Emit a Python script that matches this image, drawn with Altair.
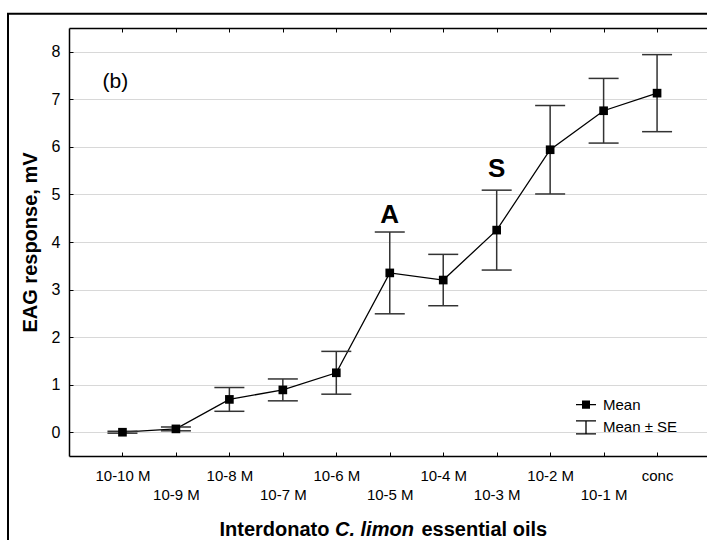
import json
import altair as alt
import pandas as pd

# ---- data ----
categories = ["10-10 M", "10-9 M", "10-8 M", "10-7 M", "10-6 M", "10-5 M",
              "10-4 M", "10-3 M", "10-2 M", "10-1 M", "conc"]
mean_mv = [0.00, 0.07, 0.69, 0.89, 1.25, 3.35, 3.20, 4.25, 5.94, 6.76, 7.13]
se_mv = [0.02, 0.04, 0.25, 0.23, 0.45, 0.86, 0.54, 0.84, 0.93, 0.68, 0.81]
y_ticks = [0, 1, 2, 3, 4, 5, 6, 7, 8]
ann_labels = ["A", "S"]
ann_categories = ["10-5 M", "10-3 M"]
ann_y = [4.41, 5.37]
legend_labels = ["Mean", "Mean \u00b1 SE"]

df = pd.DataFrame({
    "idx": list(range(1, len(categories) + 1)),
    "cat": categories,
    "mean": mean_mv,
    "se": se_mv,
})
df["low"] = df["mean"] - df["se"]
df["high"] = df["mean"] + df["se"]
df["series"] = legend_labels[0]

ann = pd.DataFrame({
    "idx": [categories.index(c) + 1 for c in ann_categories],
    "y": ann_y,
    "label": ann_labels,
})

# ---- layout ----
W, H = 638, 428
FONT = "Liberation Sans"
xs = alt.Scale(domain=[0, 11.934], nice=False, zero=False)
ys = alt.Scale(domain=[-0.5, 8.5], nice=False, zero=False)
xvals = list(range(1, len(categories) + 1))
lab_arr = json.dumps(categories)
label_expr = (f"(datum.value % 2 == 1) ? {lab_arr}[datum.value - 1] "
              f": ['', {lab_arr}[datum.value - 1]]")

title_common = dict(titleFont=FONT, titleFontSize=20, titleFontWeight="bold",
                    titleColor="black", titleAngle=0, titleBaseline="middle")

x_main = alt.Axis(orient="bottom", values=xvals, labelExpr=label_expr, ticks=False,
                  domain=True, domainColor="black", domainWidth=1.5, grid=False,
                  labelFont=FONT, labelFontSize=15, labelColor="black", labelPadding=12,
                  labelLineHeight=19.5, labelBaseline="top", labelAngle=0,
                  labelOverlap=False, labelFlush=False,
                  title="Interdonato", titleX=260, titleY=73, titleAlign="right",
                  **title_common)
x_inner_bottom = alt.Axis(orient="top", offset=-H, values=xvals, labels=False, ticks=True,
                          tickSize=4, tickColor="black", tickWidth=1, domain=False, grid=False,
                          title="C. limon", titleX=265.5, titleY=73, titleAlign="left",
                          titleFontStyle="italic", **title_common)
x_top = alt.Axis(orient="bottom", offset=-H, values=xvals, labels=False, ticks=True,
                 tickSize=4, tickColor="black", tickWidth=1, domain=True,
                 domainColor="black", domainWidth=1.5, grid=False,
                 title="essential oils", titleX=352, titleY=H + 73, titleAlign="left",
                 **title_common)

y_main = alt.Axis(orient="left", values=y_ticks, grid=True, gridColor="#b0b0b0",
                  gridDash=[1, 1], gridWidth=1, ticks=False, domain=True,
                  domainColor="black", domainWidth=1.5, labelFont=FONT, labelFontSize=16,
                  labelColor="black", labelPadding=9,
                  title="EAG response, mV", titleX=-39, titleY=H / 2, titleAngle=270,
                  titleAlign="center", titleBaseline="middle", titleFont=FONT,
                  titleFontSize=20, titleFontWeight="bold", titleColor="black")
y_inner = alt.Axis(orient="right", offset=-W, values=y_ticks, labels=False, ticks=True,
                   tickSize=4, tickColor="black", tickWidth=1, domain=False, grid=False,
                   title="(b)", titleX=33, titleY=53.5, titleAngle=0, titleAlign="left",
                   titleBaseline="middle", titleFont=FONT, titleFontSize=21,
                   titleFontWeight="normal", titleColor="black")

base = alt.Chart(df)

frame = alt.Chart(pd.DataFrame({"k": [0]})).mark_rect(
    fillOpacity=0, stroke="black", strokeWidth=2, clip=False
).encode(x=alt.value(-61), x2=alt.value(W + 40), y=alt.value(-14.3), y2=alt.value(H + 120))

line = base.mark_line(color="black", strokeWidth=1.3).encode(
    x=alt.X("idx:Q", scale=xs, axis=x_main),
    y=alt.Y("mean:Q", scale=ys, axis=y_main),
)

rules = base.mark_rule(color="#333333", strokeWidth=1.5).encode(
    x=alt.X("idx:Q", scale=xs, axis=x_inner_bottom),
    y=alt.Y("low:Q", scale=ys, axis=y_inner),
    y2="high:Q",
)

caps = base.transform_fold(["low", "high"], as_=["end", "val"]).mark_tick(
    orient="horizontal", size=30, thickness=1.5, color="#333333", opacity=1
).encode(
    x=alt.X("idx:Q", scale=xs, axis=x_top),
    y=alt.Y("val:Q", scale=ys, axis=None),
)

points = base.mark_point(shape="square", filled=True, size=75, color="black", opacity=1).encode(
    x=alt.X("idx:Q", scale=xs, axis=None),
    y=alt.Y("mean:Q", scale=ys, axis=None),
)

# legend glyphs (unit-box svg paths): line with a solid square, and an I-beam
sq_rows = "".join(f"M-0.4,{v / 100:.2f}H0.4" for v in range(-35, 40, 10))
mean_path = "M-1,0H1" + sq_rows
se_path = "M-1,-0.65H1M0,-0.65V0.65M-1,0.65H1"
legend_layer = base.mark_point(filled=False, color="black", strokeWidth=1.3,
                               opacity=0).encode(
    x=alt.X("idx:Q", scale=xs, axis=None),
    y=alt.Y("mean:Q", scale=ys, axis=None),
    shape=alt.Shape("series:N",
                    scale=alt.Scale(domain=legend_labels, range=[mean_path, se_path]),
                    legend=alt.Legend(orient="none", legendX=506, legendY=365.7, padding=0,
                                      title=None, labelFont=FONT, labelFontSize=15,
                                      labelColor="black", symbolSize=400,
                                      symbolStrokeWidth=1.3, symbolStrokeColor="black",
                                      symbolOpacity=1,
                                      rowPadding=3.7, labelOffset=6)),
)

ann_text = alt.Chart(ann).mark_text(font=FONT, fontSize=26, fontWeight="bold",
                                    color="black", baseline="alphabetic", align="center").encode(
    x=alt.X("idx:Q", scale=xs, axis=None),
    y=alt.Y("y:Q", scale=ys, axis=None),
    text="label:N",
)

chart = alt.layer(frame, line, rules, caps, points, legend_layer, ann_text).resolve_axis(
    x="independent", y="independent"
).properties(
    width=W, height=H,
    autosize=alt.AutoSizeParams(type="none"),
    padding={"left": 69, "top": 28, "right": 0, "bottom": 84},
    background="white",
).configure_view(strokeWidth=0)

chart.save("out.html", embed_options={"renderer": "svg", "actions": False})
